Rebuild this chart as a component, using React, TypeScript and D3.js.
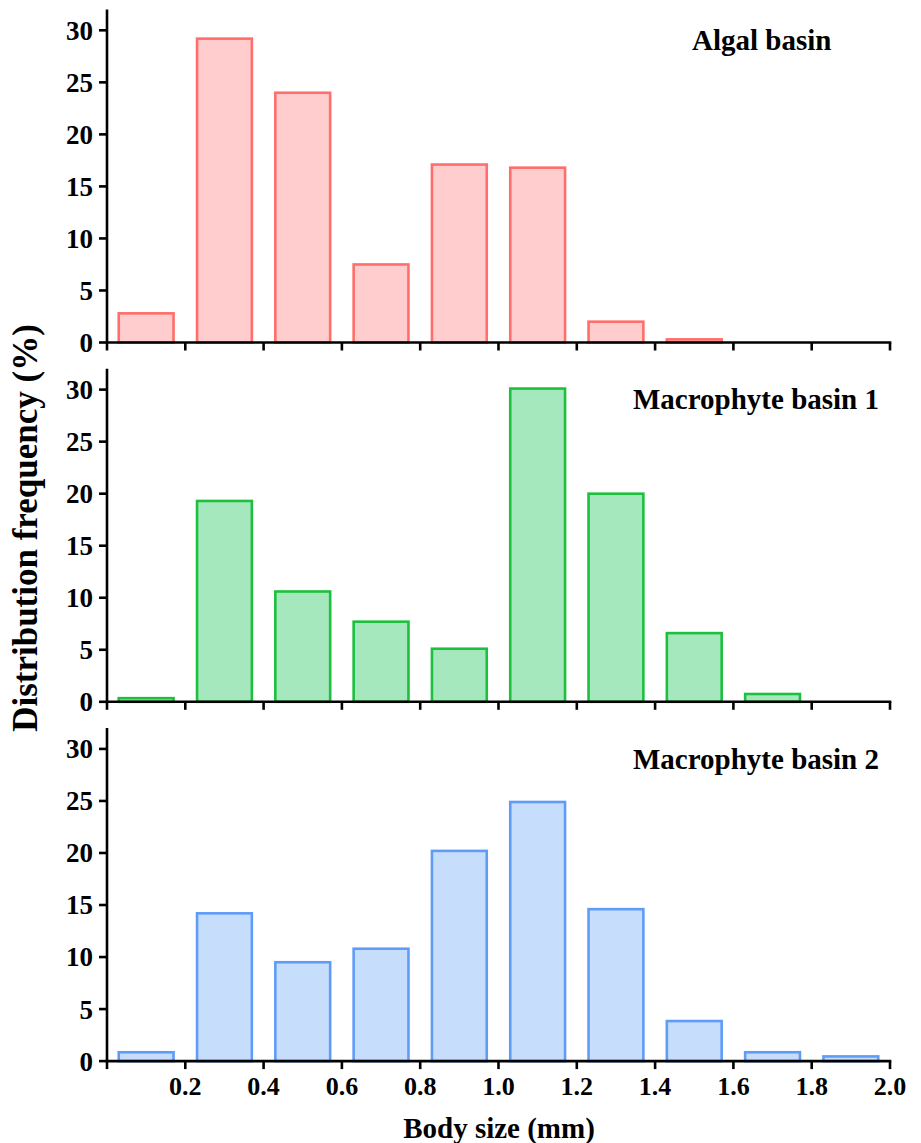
import React from "react";
import * as d3 from "d3";

const binCenters = [0.1, 0.3, 0.5, 0.7, 0.9, 1.1, 1.3, 1.5, 1.7, 1.9];
const algalValues = [2.8, 29.2, 24.0, 7.5, 17.1, 16.8, 2.0, 0.3, 0, 0];
const macro1Values = [0.35, 19.3, 10.6, 7.7, 5.1, 30.1, 20.0, 6.6, 0.75, 0];
const macro2Values = [0.85, 14.2, 9.5, 10.8, 20.2, 24.9, 14.6, 3.85, 0.85, 0.45];
const panelNames = ["Algal basin", "Macrophyte basin 1", "Macrophyte basin 2"];
const xTicks = [0, 0.2, 0.4, 0.6, 0.8, 1.0, 1.2, 1.4, 1.6, 1.8, 2.0];
const yTicks = [0, 5, 10, 15, 20, 25, 30];

const panels = [
  { name: panelNames[0], values: algalValues, fill: "#ffcdce", stroke: "#ff6e6a", titleX: 692 },
  { name: panelNames[1], values: macro1Values, fill: "#a6e8be", stroke: "#1dc03d", titleX: 633 },
  { name: panelNames[2], values: macro2Values, fill: "#c7ddfc", stroke: "#5f9cf8", titleX: 633 },
];

const W = 921;
const H = 1143;
const font = "'Liberation Serif', 'Times New Roman', serif";

export default function App() {
  const x = d3.scaleLinear().domain([0, 2.0]).range([107, 890]);
  const barW = 0.14;
  return (
    <svg width={W} height={H} style={{ position: "absolute", left: 0, top: 0, background: "#fff" }} fontFamily={font} fontWeight="bold">
      {panels.map((p, i) => {
        const zero = 342.5 + i * 359.3;
        const y = d3.scaleLinear().domain([0, 32]).range([zero, zero - 333]);
        const isLast = i === panels.length - 1;
        return (
          <g key={p.name}>
            {p.values.map((v, j) =>
              v > 0 ? (
                <rect
                  key={j}
                  x={x(binCenters[j] - barW / 2)}
                  y={y(v)}
                  width={x(barW) - x(0)}
                  height={y(0) - y(v)}
                  fill={p.fill}
                  stroke={p.stroke}
                  strokeWidth={2.6}
                />
              ) : null
            )}
            <line x1={x(0)} x2={x(0)} y1={y(32)} y2={y(0)} stroke="#000" strokeWidth={2.6} />
            <line x1={x(0) - 1.3} x2={x(2.0) + 1.3} y1={y(0)} y2={y(0)} stroke="#000" strokeWidth={2.6} />
            {yTicks.map((t) => (
              <g key={t}>
                <line x1={x(0) - 8} x2={x(0)} y1={y(t)} y2={y(t)} stroke="#000" strokeWidth={2.6} />
                <text x={93} y={y(t)} dy="0.35em" textAnchor="end" fontSize={27}>
                  {t}
                </text>
              </g>
            ))}
            {xTicks.map((t) => (
              <g key={t}>
                <line x1={x(t)} x2={x(t)} y1={y(0)} y2={y(0) + 8} stroke="#000" strokeWidth={2.6} />
                {isLast && t > 0 ? (
                  <text x={x(t)} y={1095} textAnchor="middle" fontSize={26}>
                    {t.toFixed(1)}
                  </text>
                ) : null}
              </g>
            ))}
            <text x={p.titleX} y={zero - 292.5} fontSize={29}>
              {p.name}
            </text>
          </g>
        );
      })}
      <text x={499} y={1138} textAnchor="middle" fontSize={29}>
        Body size (mm)
      </text>
      <text transform="translate(37,528) rotate(-90)" textAnchor="middle" fontSize={35}>
        Distribution frequency (%)
      </text>
    </svg>
  );
}
